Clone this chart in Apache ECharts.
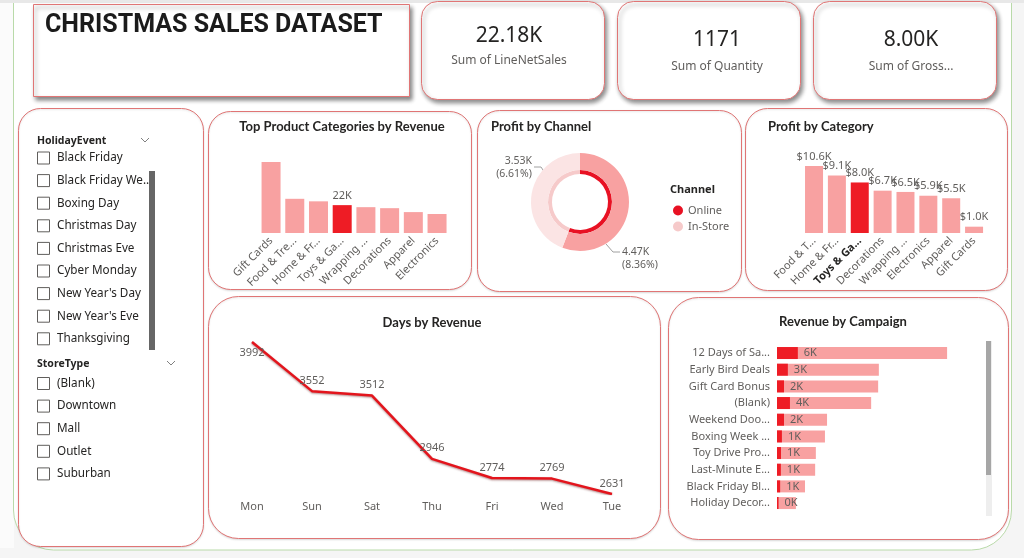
<!DOCTYPE html>
<html>
<head>
<meta charset="utf-8">
<title>Christmas Sales Dataset</title>
<script src="https://cdn.jsdelivr.net/npm/echarts@6/dist/echarts.min.js"></script>
<style>
  html, body { margin: 0; padding: 0; background: #f5f5f5; }
  #main { width: 1024px; height: 558px; }
</style>
</head>
<body>
<div id="main"></div>
<script>
// kpi cards
const kpiValues = ['22.18K', '1171', '8.00K']
const kpiLabels = ['Sum of LineNetSales', 'Sum of Quantity', 'Sum of Gross...']

// slicers
const holidayEvents = ['Black Friday', 'Black Friday We..', 'Boxing Day', 'Christmas Day', 'Christmas Eve',
  'Cyber Monday', "New Year's Day", "New Year's Eve", 'Thanksgiving']
const storeTypes = ['(Blank)', 'Downtown', 'Mall', 'Outlet', 'Suburban']

// top product categories by revenue
const topCategories = ['Gift Cards', 'Food & Tre...', 'Home & Fr...', 'Toys & Ga...', 'Wrapping ...', 'Decorations', 'Apparel', 'Electronics']
const topRevenue = [56000, 27000, 25000, 22000, 20400, 19600, 16500, 15000]

// profit by channel
const channels = ['Online', 'In-Store']
const channelProfit = [4470, 3530]
const channelPct = ['8.36%', '6.61%']

// profit by category
const profitCategories = ['Food & T...', 'Home & Fr...', 'Toys & Ga...', 'Decorations', 'Wrapping ...', 'Electronics', 'Apparel', 'Gift Cards']
const categoryProfit = [10600, 9100, 8000, 6700, 6500, 5900, 5500, 1000]

// days by revenue
const days = ['Mon', 'Sun', 'Sat', 'Thu', 'Fri', 'Wed', 'Tue']
const dayRevenue = [3992, 3552, 3512, 2946, 2774, 2769, 2631]

// revenue by campaign
const campaigns = ['12 Days of Sa...', 'Early Bird Deals', 'Gift Card Bonus', '(Blank)', 'Weekend Doo...',
  'Boxing Week ...', 'Toy Drive Pro...', 'Last-Minute E...', 'Black Friday Bl...', 'Holiday Decor...']
const campaignRevenue = [48600, 29100, 28900, 26900, 14300, 13700, 11100, 10900, 8000, 5400]
const campaignProfit = [5950, 3100, 2000, 3700, 2000, 1400, 1150, 1100, 900, 450]

const HIGHLIGHT = 'Toys & Ga...'
const PINK = '#F8A1A1'
const RED = '#EE1C25'
const LABEL = '#605E5C'
const DARK = '#252423'
const BORDER = '#E07575'

function card(x, y, w, h, r, heavy) {
  return {
    type: 'rect',
    z: 0,
    shape: { x, y, width: w, height: h, r },
    style: {
      fill: '#fff',
      stroke: BORDER,
      lineWidth: 1,
      shadowBlur: heavy ? 4 : 2,
      shadowOffsetX: heavy ? 2 : 0,
      shadowOffsetY: heavy ? 3 : 1,
      shadowColor: heavy ? 'rgba(0,0,0,0.45)' : 'rgba(0,0,0,0.12)'
    }
  }
}

function text(str, x, y, font, fill, align) {
  return {
    type: 'text',
    z: 5,
    style: { text: str, x, y, font, fill, textAlign: align || 'left', textVerticalAlign: 'middle' }
  }
}

function chevron(x, y) {
  return {
    type: 'polyline',
    z: 5,
    shape: { points: [[x, y], [x + 4, y + 4], [x + 8, y]] },
    style: { stroke: '#808080', lineWidth: 1, fill: null }
  }
}

function slicerItems(items, top) {
  const out = []
  items.forEach((name, i) => {
    const y = top + i * 22.6
    out.push({
      type: 'rect', z: 5,
      shape: { x: 37.5, y: y - 6, width: 12, height: 12 },
      style: { fill: '#fff', stroke: '#605E5C', lineWidth: 1 }
    })
    out.push(text(name, 57, y, '11.7px "Noto Sans"', DARK))
  })
  return out
}

const graphics = [
  { type: 'rect', z: -5, shape: { x: 0, y: 0, width: 1024, height: 558 }, style: { fill: '#f5f5f5' } },
  { type: 'rect', z: -5, shape: { x: 0, y: 0, width: 14, height: 548 }, style: { fill: '#fbfbfb' } },
  { type: 'rect', z: -4, shape: { x: 13.5, y: -40, width: 998, height: 590, r: 40 }, style: { fill: '#fff', stroke: '#B9DAA9', lineWidth: 1 } },
  { type: 'rect', z: -3, shape: { x: 0, y: 0, width: 1024, height: 3 }, style: { fill: '#E8E8E8' } },

  card(33.5, 4.5, 376, 92, 0, true),
  card(421.5, 1.5, 183, 98, 16, true),
  card(617.5, 1.5, 183, 98, 16, true),
  card(813.5, 1.5, 183, 98, 16, true),
  card(18.5, 108.5, 185, 438, 22, false),
  card(208.5, 111.5, 263, 178, 22, false),
  card(477.5, 110.5, 264, 181, 22, false),
  card(745.5, 108.5, 262, 182, 22, false),
  card(208.5, 296.5, 452, 242, 30, false),
  card(668.5, 297.5, 340, 242, 30, false),

  text('CHRISTMAS SALES DATASET', 45, 26, 'bold 25px Roboto', '#1b1b1b'),

  text(kpiValues[0], 509, 36, '21px "Noto Sans"', DARK, 'center'),
  text(kpiLabels[0], 509, 61, '12px "Noto Sans"', LABEL, 'center'),
  text(kpiValues[1], 717, 40, '21px "Noto Sans"', DARK, 'center'),
  text(kpiLabels[1], 717, 67, '12px "Noto Sans"', LABEL, 'center'),
  text(kpiValues[2], 911, 40, '21px "Noto Sans"', DARK, 'center'),
  text(kpiLabels[2], 911, 67, '12px "Noto Sans"', LABEL, 'center'),

  text('Top Product Categories by Revenue', 342, 127, 'bold 13px Lato', DARK, 'center'),
  text('Profit by Channel', 491, 127, 'bold 13px Lato', DARK),
  text('Profit by Category', 768, 127, 'bold 13px Lato', DARK),
  text('Days by Revenue', 432, 323, 'bold 13px Lato', DARK, 'center'),
  text('Revenue by Campaign', 843, 322, 'bold 13px Lato', DARK, 'center'),
  text('Channel', 670, 190, 'bold 11px "Noto Sans"', DARK),

  text('HolidayEvent', 37, 141, 'bold 10.5px "Noto Sans"', DARK),
  chevron(141, 138),
  text('StoreType', 37, 364, 'bold 10.5px "Noto Sans"', DARK),
  chevron(167, 361),
  { type: 'rect', z: 5, shape: { x: 149, y: 171, width: 6, height: 179 }, style: { fill: '#666' } },

  // campaign scrollbar
  { type: 'rect', z: 5, shape: { x: 986, y: 341, width: 6, height: 175 }, style: { fill: '#EEEEEE' } },
  { type: 'rect', z: 6, shape: { x: 986, y: 341, width: 5, height: 134 }, style: { fill: '#A6A6A6' } }
].concat(slicerItems(holidayEvents, 158), slicerItems(storeTypes, 383.5))

const chart = echarts.init(document.getElementById('main'))

const hiddenValueAxis = { type: 'value', show: false, splitLine: { show: false } }
const rotatedCat = (gridIndex, data) => ({
  type: 'category',
  gridIndex,
  data,
  axisLine: { show: false },
  axisTick: { show: false },
  axisLabel: {
    rotate: 45,
    margin: 6,
    fontSize: 11,
    color: LABEL,
    fontFamily: 'Noto Sans',
    interval: 0,
    formatter: v => (v === HIGHLIGHT && gridIndex === 1 ? '{b|' + v + '}' : v),
    rich: { b: { fontWeight: 'bold', color: DARK, fontSize: 11, fontFamily: 'Noto Sans' } }
  }
})

const option = {
  animation: false,
  backgroundColor: '#f5f5f5',
  textStyle: { fontFamily: 'Noto Sans' },
  graphic: { elements: graphics },
  legend: {
    data: channels,
    orient: 'vertical',
    left: 668,
    top: 200,
    itemWidth: 10,
    itemHeight: 10,
    itemGap: 5,
    icon: 'circle',
    textStyle: { fontSize: 11, color: LABEL, fontFamily: 'Noto Sans' },
    selectedMode: false
  },
  grid: [
    { left: 259.2, top: 157, width: 189.7, height: 76 },
    { left: 802.6, top: 157.2, width: 182.9, height: 75.8 },
    { left: 252, top: 342, width: 360, height: 152 },
    { left: 777, top: 344.7, width: 210, height: 166.7 }
  ],
  xAxis: [
    rotatedCat(0, topCategories),
    rotatedCat(1, profitCategories),
    {
      type: 'category',
      gridIndex: 2,
      data: days,
      boundaryGap: false,
      axisLine: { show: false },
      axisTick: { show: false },
      axisLabel: { margin: 7, fontSize: 11, color: LABEL, fontFamily: 'Noto Sans' }
    },
    Object.assign({ gridIndex: 3, max: 60000 }, hiddenValueAxis)
  ],
  yAxis: [
    Object.assign({ gridIndex: 0, max: 60000 }, hiddenValueAxis),
    Object.assign({ gridIndex: 1, max: 12000 }, hiddenValueAxis),
    Object.assign({ gridIndex: 2, min: 'dataMin', max: 'dataMax' }, hiddenValueAxis),
    {
      type: 'category',
      gridIndex: 3,
      data: campaigns,
      inverse: true,
      axisLine: { show: false },
      axisTick: { show: false },
      axisLabel: { margin: 7, fontSize: 11, color: LABEL, fontFamily: 'Noto Sans' }
    }
  ],
  series: [
    {
      name: 'Revenue',
      type: 'bar',
      xAxisIndex: 0,
      yAxisIndex: 0,
      barWidth: 19,
      data: topRevenue.map((v, i) => ({
        value: v,
        itemStyle: { color: topCategories[i] === HIGHLIGHT ? RED : PINK },
        label: { show: topCategories[i] === HIGHLIGHT }
      })),
      label: {
        position: 'top',
        distance: 4,
        fontSize: 11,
        color: LABEL,
        formatter: p => Math.round(p.value / 1000) + 'K'
      }
    },
    {
      name: 'Profit',
      type: 'bar',
      xAxisIndex: 1,
      yAxisIndex: 1,
      barWidth: 18,
      data: categoryProfit.map((v, i) => ({
        value: v,
        itemStyle: { color: profitCategories[i] === HIGHLIGHT ? RED : PINK }
      })),
      label: {
        show: true,
        position: 'top',
        distance: 4,
        fontSize: 11,
        color: LABEL,
        formatter: p => '$' + (p.value / 1000).toFixed(1) + 'K'
      }
    },
    {
      name: 'Day Revenue',
      type: 'line',
      xAxisIndex: 2,
      yAxisIndex: 2,
      symbol: 'circle',
      symbolSize: 0.1,
      showSymbol: true,
      data: dayRevenue.map((v, i) => ({ value: v, label: { position: i === 0 ? 'bottom' : 'top' } })),
      lineStyle: { color: '#E3141C', width: 2.5, shadowColor: 'rgba(90,0,0,0.45)', shadowBlur: 2, shadowOffsetY: 1 },
      itemStyle: { color: '#E3141C' },
      label: { show: true, distance: 5, fontSize: 11, color: LABEL }
    },
    {
      name: 'Campaign Revenue',
      type: 'bar',
      xAxisIndex: 3,
      yAxisIndex: 3,
      barWidth: 12,
      barGap: '-100%',
      itemStyle: { color: PINK },
      data: campaignRevenue
    },
    {
      name: 'Campaign Profit',
      type: 'bar',
      xAxisIndex: 3,
      yAxisIndex: 3,
      barWidth: 12,
      barGap: '-100%',
      itemStyle: { color: RED },
      data: campaignProfit,
      label: {
        show: true,
        position: 'right',
        distance: 6,
        fontSize: 11,
        color: LABEL,
        formatter: p => Math.round(p.value / 1000) + 'K'
      }
    },
    {
      name: 'Channel inner',
      type: 'pie',
      center: [580, 202],
      radius: [28, 32],
      startAngle: 90,
      silent: true,
      label: { show: false },
      labelLine: { show: false },
      data: channels.map((c, i) => ({ name: c, value: channelProfit[i], itemStyle: { color: i === 0 ? '#E81123' : '#F6CACA' } }))
    },
    {
      name: 'Channel',
      type: 'pie',
      center: [580, 202],
      radius: [32, 49],
      startAngle: 90,
      silent: true,
      data: channels.map((c, i) => ({ name: c, value: channelProfit[i], itemStyle: { color: i === 0 ? PINK : '#FBE4E4' } })),
      label: {
        show: true,
        position: 'outside',
        fontSize: 10.5,
        lineHeight: 13,
        color: LABEL,
        formatter: p => (p.value / 1000).toFixed(2) + 'K\n(' + channelPct[p.dataIndex] + ')'
      },
      labelLine: { show: true, length: 8, length2: 10, lineStyle: { color: '#A0A0A0', width: 1 } },
      labelLayout: p => (p.dataIndex === 0
        ? { x: 622, y: 259, align: 'left', verticalAlign: 'middle', labelLinePoints: [[606, 244], [613, 252], [620, 252]] }
        : { x: 532, y: 168, align: 'right', verticalAlign: 'middle', labelLinePoints: [[547, 176], [541, 167], [534, 167]] })
    }
  ]
}

chart.setOption(option)
</script>
</body>
</html>
